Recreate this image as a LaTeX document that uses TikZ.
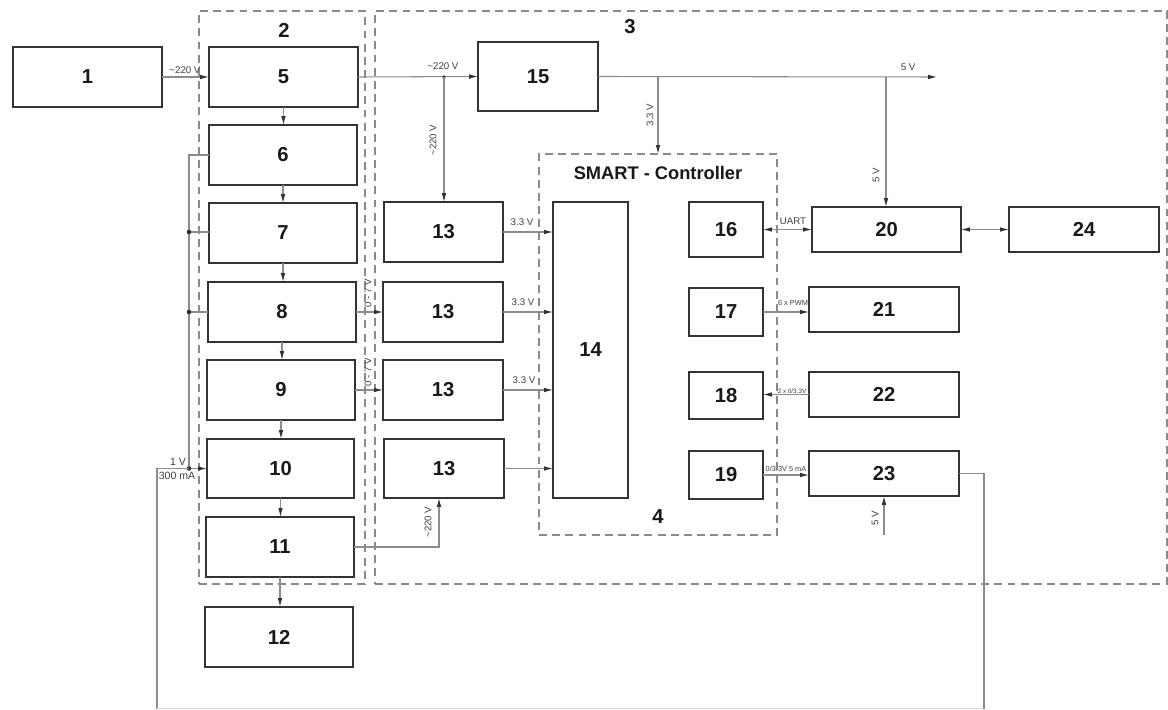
\documentclass[tikz,border=0pt]{standalone}
\usepackage{fontspec}
\setmainfont{Liberation Sans}
\usetikzlibrary{arrows.meta,calc}
\definecolor{wirec}{HTML}{8C8C8C}
\definecolor{edgec}{HTML}{333333}
\definecolor{dashc}{HTML}{8A8A8A}
\tikzset{
  blk/.style={draw=edgec, line width=1.1pt, rectangle, inner sep=0pt, outer sep=0pt, font=\fontsize{11.5}{13}\selectfont\bfseries, text=black!90},
  grp/.style={draw=dashc, line width=0.7pt, dash pattern=on 4.5pt off 3pt, rectangle, inner sep=0pt, outer sep=0pt},
  wire/.style={draw=wirec, line width=0.6pt},
  tip/.style={-{Latex[length=5pt,width=2.6pt,color=edgec]}},
  btip/.style={{Latex[length=5pt,width=2.6pt,color=edgec]}-{Latex[length=5pt,width=2.6pt,color=edgec]}},
  lbl/.style={font=\fontsize{5.5}{6}\selectfont, text=black!75, inner sep=0pt},
  tiny/.style={font=\fontsize{4.2}{5}\selectfont, text=black!75, inner sep=0pt},
  num/.style={font=\fontsize{11.5}{13}\selectfont\bfseries, text=black!90, inner sep=0pt},
  dot/.style={circle, fill=edgec, inner sep=0pt, minimum size=2.6pt}
}
\newcommand{\mkbox}[7][blk]{\node[#1, minimum width={(#5-#3)*0.02cm}, minimum height={(#6-#4)*0.02cm}] (#2) at ({(#3+#5)/2},{(#4+#6)/2}) {#7};}
\begin{document}
\begin{tikzpicture}[x=0.02cm, y=-0.02cm]
\useasboundingbox (0,0) rectangle (1168,709);
\fill[white] (0,0) rectangle (1168,709);
% groups
\mkbox[grp]{g2}{199}{11}{365}{584}{}
\mkbox[grp]{g3}{375}{11}{1167}{584}{}
\mkbox[grp]{g4}{539}{154}{777}{535}{}
\node[num] (l2) at (284,30) {2};
\node[num] (l3) at (630,27) {3};
\node[num] (l4) at (658,517) {4};
\node[font=\fontsize{10.4}{12}\selectfont\bfseries, text=black!90, inner sep=0pt] (lsc) at (658,173) {SMART - Controller};
% boxes
\mkbox{n1}{13}{47}{162}{107}{1}
\mkbox{n5}{209}{47}{358}{107}{5}
\mkbox{n6}{209}{125}{357}{185}{6}
\mkbox{n7}{209}{203}{357}{263}{7}
\mkbox{n8}{208}{282}{356}{342}{8}
\mkbox{n9}{207}{360}{355}{420}{9}
\mkbox{n10}{207}{439}{354}{498}{10}
\mkbox{n11}{206}{517}{354}{577}{11}
\mkbox{n12}{205}{607}{353}{667}{12}
\mkbox{n15}{478}{42}{598}{111}{15}
\mkbox{n13a}{384}{202}{503}{262}{13}
\mkbox{n13b}{383}{282}{503}{342}{13}
\mkbox{n13c}{383}{360}{503}{420}{13}
\mkbox{n13d}{384}{439}{504}{498}{13}
\mkbox{n14}{553}{202}{628}{498}{14}
\mkbox{n16}{689}{202}{763}{257}{16}
\mkbox{n17}{689}{288}{763}{336}{17}
\mkbox{n18}{689}{372}{763}{419}{18}
\mkbox{n19}{689}{451}{763}{499}{19}
\mkbox{n20}{812}{207}{961}{252}{20}
\mkbox{n24}{1009}{207}{1159}{252}{24}
\mkbox{n21}{809}{287}{959}{332}{21}
\mkbox{n22}{809}{372}{959}{417}{22}
\mkbox{n23}{809}{451}{959}{496}{23}
% mains input
\draw[wire,tip] (n1.east) -- (n5.west);
\node[lbl] (t1) at (185,70) {\textasciitilde220 V};
\draw[wire,tip] (n5.east) -- (n15.west);
\coordinate (j1) at (444,77);
\node[dot, minimum size=2pt] (dj1) at (j1) {};
\node[lbl] (t2) at (443,66) {\textasciitilde220 V};
\draw[wire,tip] (j1) -- (j1 |- n13a.north);
\node[lbl, rotate=90] (t3) at (433,140) {\textasciitilde220 V};
% 15 outputs
\coordinate (v5) at (937,77);
\coordinate (j2) at (658,77);
\coordinate (j3) at (886,77);
\draw[wire,tip] (n15.east) -- (v5);
\node[lbl] (t4) at (908,67) {5 V};
\draw[wire,tip] (j2) -- (j2 |- g4.north);
\node[lbl, rotate=90] (t5) at (650,115) {3.3 V};
\draw[wire,tip] (j3) -- (j3 |- n20.north);
\node[lbl, rotate=90] (t6) at (876,175) {5 V};
% chain in group 2
\draw[wire,tip] (n5.south) -- (n5.south |- n6.north);
\draw[wire,tip] (n6.south) -- (n6.south |- n7.north);
\draw[wire,tip] (n7.south) -- (n7.south |- n8.north);
\draw[wire,tip] (n8.south) -- (n8.south |- n9.north);
\draw[wire,tip] (n9.south) -- (n9.south |- n10.north);
\draw[wire,tip] (n10.south) -- (n10.south |- n11.north);
\draw[wire,tip] (n11.south) -- (n11.south |- n12.north);
% to 13s
\draw[wire,tip] (n8.east) -- (n8.east -| n13b.west);
\node[lbl, rotate=90] (t7) at (368,293) {0 - 7 V};
\draw[wire,tip] (n9.east) -- (n9.east -| n13c.west);
\node[lbl, rotate=90] (t8) at (368,372) {0 - 7 V};
\coordinate (k11) at (439,547);
\draw[wire,tip] (n11.east) -- (k11) -- (k11 |- n13d.south);
\node[lbl, rotate=90] (t9) at (428,522) {\textasciitilde220 V};
% 13 -> 14
\draw[wire,tip] (n13a.east) -- (n13a.east -| n14.west);
\node[lbl] (t10) at (522,222) {3.3 V};
\draw[wire,tip] (n13b.east) -- (n13b.east -| n14.west);
\node[lbl] (t11) at (523,302) {3.3 V};
\draw[wire,tip] (n13c.east) -- (n13c.east -| n14.west);
\node[lbl] (t12) at (524,380) {3.3 V};
\draw[wire,tip] (n13d.east) -- (n13d.east -| n14.west);
% left bus
\coordinate (b7) at (189,232);
\coordinate (b8) at (189,312);
\coordinate (b10) at (189,468.5);
\coordinate (c1) at (157,468.5);
\coordinate (c2) at (157,708.5);
\coordinate (c3) at (984,708.5);
\draw[wire] (n6.west) -| (b10);
\draw[wire] (b7) -- (b7 -| n7.west);
\draw[wire] (b8) -- (b8 -| n8.west);
\draw[wire,tip] (b10) -- (n10.west);
\node[dot] (d7) at (b7) {};
\node[dot] (d8) at (b8) {};
\node[dot] (d10) at (b10) {};
\node[lbl, font=\fontsize{6}{7}\selectfont] (t13) at (178,462) {1 V};
\node[lbl, font=\fontsize{6}{7}\selectfont] (t14) at (177,476) {300 mA};
\draw[wire] (b10) -- (c1) -- (c2);
\draw[wire, draw=black!15] (c2) -- (c3);
\draw[wire] (c3) |- (n23.east);
% right side
\draw[wire,btip] (n16.east) -- (n20.west);
\node[lbl] (t15) at (793,221) {UART};
\draw[wire,btip] (n20.east) -- (n24.west);
\draw[wire,tip] (n17.east) -- (n17.east -| n21.west);
\node[tiny] (t16) at (793,303) {6 x PWM};
\draw[wire,tip] (n22.west) -- (n22.west -| n18.east);
\node[tiny, font=\fontsize{3.6}{4}\selectfont] (t17) at (792,391) {2 x 0/3.3V};
\draw[wire,tip] (n19.east) -- (n19.east -| n23.west);
\node[tiny] (t18) at (786,469) {0/3.3V 5 mA};
\coordinate (v23) at (884,535);
\draw[wire,tip] (v23) -- (v23 |- n23.south);
\node[lbl, rotate=90] (t19) at (875,518) {5 V};
\end{tikzpicture}
\end{document}
